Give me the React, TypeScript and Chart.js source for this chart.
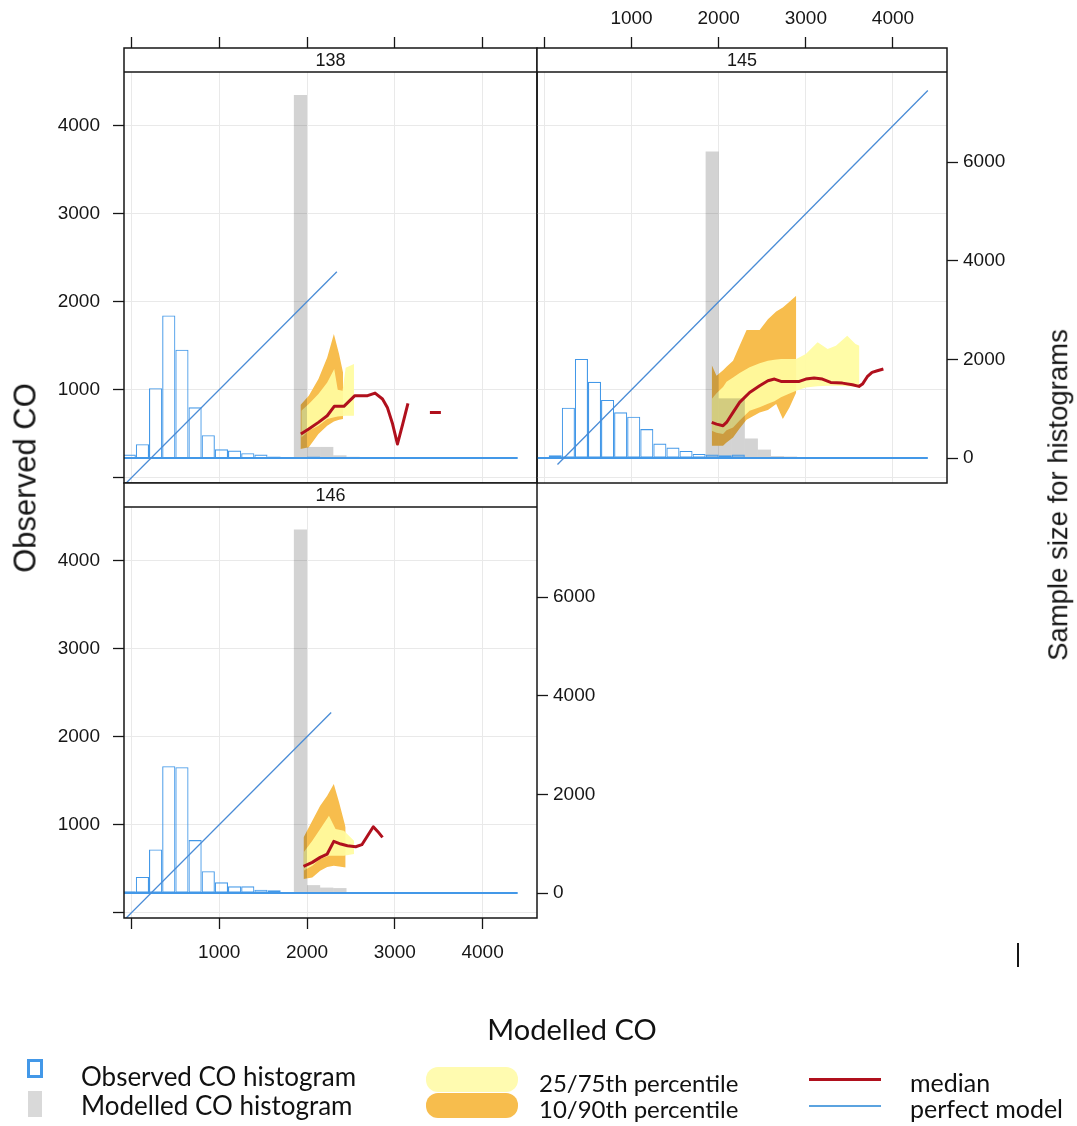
import { useEffect, useRef } from 'react';
import { Chart, registerables } from 'chart.js';

Chart.register(...registerables);

// ---------- shared categories and ticks ----------
// histogram bins are 150 CO units wide; these are their centres
const binCentres = [-25, 125, 275, 425, 575, 725, 875, 1025, 1175, 1325, 1475, 1625, 1775, 1925, 2075, 2225, 2375, 2525, 2675, 2825, 2975, 3125, 3275, 3425, 3575, 3725, 3875, 4025, 4175, 4325];
const histRange = [-100, 4400];
const xTickValues = [0, 1000, 2000, 3000, 4000];
const coTickValues = [0, 1000, 2000, 3000, 4000];
const countTickValues = [0, 2000, 4000, 6000];

// ---------- site 138 ----------
const obsHist138 = [69, 280, 1416, 2892, 2198, 1028, 463, 177, 150, 96, 69, 30, 12, 20, 30, 10, 6, 4, 3, 2, 2, 1, 1, 0, 0, 0, 0, 0, 0, 0];
const modHist138 = [0, 0, 0, 0, 0, 0, 0, 0, 0, 0, 0, 0, 0, 7361, 225, 225, 55, 25, 12, 8, 5, 3, 2, 1, 0, 0, 0, 0, 0, 0];
const medX138 = [1930, 2020, 2130, 2230, 2310, 2420, 2545, 2690, 2775, 2860, 2915, 2975, 3030, 3090, 3150, 3280, 3400, 3525];
const med138 = [496, 553, 629, 704, 811, 811, 932, 932, 962, 894, 799, 610, 383, 610, 845, null, 742, 742];
const outerX138 = [1925, 2020, 2130, 2230, 2306, 2365, 2410];
const q90_138 = [826, 932, 1121, 1367, 1633, 1405, 1197];
const q10_138 = [326, 345, 496, 591, 640, 660, 667];
const innerX138 = [1935, 2020, 2130, 2230, 2310, 2350, 2405, 2440, 2535];
const q75_138 = [761, 837, 951, 1083, 1235, 1000, 989, 1250, 1292];
const q25_138 = [458, 534, 591, 667, 686, 695, 700, 705, 705];
const perfect138 = [-100, 2340];

// ---------- site 145 ----------
const obsHist145 = [0, 55, 1020, 2008, 1545, 1177, 926, 837, 586, 293, 212, 143, 82, 69, 55, 70, 20, 12, 8, 6, 4, 3, 2, 1, 1, 0, 0, 0, 0, 0];
const modHist145 = [0, 0, 0, 0, 0, 0, 0, 0, 0, 0, 0, 0, 0, 6218, 1210, 1210, 396, 171, 40, 30, 20, 10, 6, 4, 2, 0, 0, 0, 0, 0];
const medX145 = [1920, 1975, 2050, 2090, 2165, 2240, 2355, 2470, 2565, 2640, 2715, 2925, 3000, 3095, 3190, 3285, 3420, 3535, 3610, 3650, 3705, 3760, 3820, 3890];
const med145 = [628, 609, 591, 628, 742, 856, 969, 1045, 1102, 1121, 1094, 1094, 1121, 1132, 1121, 1083, 1075, 1057, 1038, 1064, 1148, 1197, 1216, 1235];
const outerX145 = [1920, 1975, 2050, 2090, 2165, 2240, 2320, 2470, 2565, 2660, 2736, 2812, 2890];
const q90_145 = [1280, 1159, 1220, 1260, 1329, 1500, 1678, 1678, 1800, 1890, 1935, 2000, 2068];
const q10_145 = [363, 363, 363, 400, 458, 560, 660, 740, 770, 837, 666, 799, 969];
const innerX145 = [1920, 1975, 2050, 2090, 2165, 2240, 2355, 2470, 2565, 2640, 2715, 2800, 2890, 3000, 3135, 3250, 3345, 3475, 3570, 3615];
const q75_145 = [894, 960, 1030, 1090, 1140, 1190, 1254, 1300, 1329, 1340, 1348, 1348, 1348, 1405, 1538, 1462, 1500, 1613, 1519, 1500];
const q25_145 = [534, 510, 496, 540, 572, 650, 760, 800, 840, 870, 913, 950, 988, 1026, 1040, 1045, 1045, 1040, 1035, 1026];
const perfect145 = [150, 4400];

// ---------- site 146 ----------
const obsHist146 = [35, 327, 884, 2571, 2551, 1074, 442, 217, 136, 136, 68, 54, 20, 15, 10, 5, 3, 2, 1, 1, 0, 0, 0, 0, 0, 0, 0, 0, 0, 0];
const modHist146 = [0, 0, 0, 0, 0, 0, 0, 0, 0, 0, 0, 0, 0, 7374, 160, 110, 100, 20, 10, 5, 3, 2, 1, 0, 0, 0, 0, 0, 0, 0];
const medX146 = [1960, 2060, 2150, 2230, 2305, 2385, 2460, 2555, 2625, 2690, 2755, 2805, 2860];
const med146 = [526, 572, 629, 667, 811, 780, 761, 750, 773, 875, 977, 924, 856];
const outerX146 = [1960, 2060, 2150, 2230, 2305, 2365, 2440];
const q90_146 = [856, 1045, 1216, 1330, 1462, 1254, 969];
const q10_146 = [382, 401, 477, 520, 534, 525, 515];
const innerX146 = [1960, 2060, 2150, 2250, 2325, 2420, 2535];
const q75_146 = [685, 818, 951, 1102, 951, 932, 818];
const q25_146 = [477, 534, 610, 648, 648, 648, 667];
const perfect146 = [-100, 2275];

// ---------- look ----------
const FONT = "'Liberation Sans', Arial, Helvetica, sans-serif";
const LEGEND_FONT = "Lato, 'Open Sans', sans-serif";
const INK = '#161616';
const GRID = '#e9e9e9';
const BLUE_HIST = '#4398e8';
const BLUE_LINE = '#4a8cd6';
const GREY = '#d3d3d3';
const YELLOW = 'rgba(255, 252, 160, 0.92)';
const ORANGE = '#f7bd4d';
const RED = '#b0101d';

const PAGE_W = 1077;
const PAGE_H = 1126;
const STRIP_H = 24;

const X_MIN = -85;
const X_MAX = 4620;
const CO_MIN = -60;
const CO_MAX = 4883;
const COUNT_MIN = -507;
const COUNT_MAX = 8316;

type Panel = {
  site: string;
  obsHist: number[];
  modHist: number[];
  medX: number[];
  med: (number | null)[];
  outerX: number[];
  q10: number[];
  q90: number[];
  innerX: number[];
  q25: number[];
  q75: number[];
  perfect: number[];
};

type Frame = {
  left: number;
  right: number;
  top: number;
  bottom: number;
  xAxis: 'top' | 'bottom';
  xLabels: boolean;
  coLabels: boolean;
  countAxis: boolean;
};

const panels: { panel: Panel; frame: Frame }[] = [
  {
    panel: { site: '138', obsHist: obsHist138, modHist: modHist138, medX: medX138, med: med138, outerX: outerX138, q10: q10_138, q90: q90_138, innerX: innerX138, q25: q25_138, q75: q75_138, perfect: perfect138 },
    frame: { left: 124, right: 537, top: 48, bottom: 483, xAxis: 'top', xLabels: false, coLabels: true, countAxis: false },
  },
  {
    panel: { site: '145', obsHist: obsHist145, modHist: modHist145, medX: medX145, med: med145, outerX: outerX145, q10: q10_145, q90: q90_145, innerX: innerX145, q25: q25_145, q75: q75_145, perfect: perfect145 },
    frame: { left: 537, right: 947, top: 48, bottom: 483, xAxis: 'top', xLabels: true, coLabels: false, countAxis: true },
  },
  {
    panel: { site: '146', obsHist: obsHist146, modHist: modHist146, medX: medX146, med: med146, outerX: outerX146, q10: q10_146, q90: q90_146, innerX: innerX146, q25: q25_146, q75: q75_146, perfect: perfect146 },
    frame: { left: 124, right: 537, top: 483, bottom: 918, xAxis: 'bottom', xLabels: true, coLabels: true, countAxis: true },
  },
];

// panel strip and box, drawn last so the strip sits on top of the grid
const framePlugin = {
  id: 'panelFrame',
  afterDraw(chart: any, _args: any, opts: any) {
    const { ctx, chartArea: a } = chart;
    ctx.save();
    ctx.fillStyle = '#ffffff';
    ctx.fillRect(a.left, a.top, a.right - a.left, STRIP_H);
    ctx.strokeStyle = INK;
    ctx.lineWidth = 1.5;
    ctx.strokeRect(a.left, a.top, a.right - a.left, a.bottom - a.top);
    ctx.beginPath();
    ctx.moveTo(a.left, a.top + STRIP_H);
    ctx.lineTo(a.right, a.top + STRIP_H);
    ctx.stroke();
    ctx.fillStyle = INK;
    ctx.font = `18px ${FONT}`;
    ctx.textAlign = 'center';
    ctx.textBaseline = 'middle';
    ctx.fillText(opts.label, (a.left + a.right) / 2, a.top + STRIP_H / 2 + 1);
    ctx.restore();
  },
};

// the modelled histogram is blended over the percentile bands
const multiplyPlugin = {
  id: 'multiplyHist',
  beforeDatasetDraw(chart: any, args: any) {
    if (chart.data.datasets[args.index].label === 'Modelled CO histogram') {
      chart.ctx.save();
      chart.ctx.globalCompositeOperation = 'multiply';
    }
  },
  afterDatasetDraw(chart: any, args: any) {
    if (chart.data.datasets[args.index].label === 'Modelled CO histogram') {
      chart.ctx.restore();
    }
  },
};

const fixedTicks = (values: number[]) => (scale: any) => {
  scale.ticks = values.map((value) => ({ value }));
};

function buildConfig(p: Panel, f: Frame): any {
  const xy = (xs: number[], ys: (number | null)[]) => xs.map((x, i) => ({ x, y: ys[i] }));
  const hist = (counts: number[]) => binCentres.map((x, i) => ({ x, y: counts[i] })).filter((d) => d.y > 0);
  const tickFont = { family: FONT, size: 19 };

  const datasets = [
    { type: 'line', label: 'median', yAxisID: 'y', data: xy(p.medX, p.med), borderColor: RED, borderWidth: 3, pointRadius: 0, borderJoinStyle: 'round', spanGaps: false, order: 0 },
    { type: 'line', label: 'perfect model', yAxisID: 'y', data: [{ x: p.perfect[0], y: p.perfect[0] }, { x: p.perfect[1], y: p.perfect[1] }], borderColor: BLUE_LINE, borderWidth: 1.3, pointRadius: 0, order: 1 },
    { type: 'line', label: 'histogram baseline', yAxisID: 'count', data: [{ x: histRange[0], y: 0 }, { x: histRange[1], y: 0 }], borderColor: BLUE_HIST, borderWidth: 2, pointRadius: 0, order: 2 },
    { type: 'bar', label: 'Observed CO histogram', yAxisID: 'count', data: hist(p.obsHist), backgroundColor: 'rgba(255,255,255,0)', borderColor: BLUE_HIST, borderWidth: 1.1, borderSkipped: false, inflateAmount: 0, grouped: false, barPercentage: 1, categoryPercentage: 1, order: 3 },
    { type: 'bar', label: 'Modelled CO histogram', yAxisID: 'count', data: hist(p.modHist), backgroundColor: GREY, borderWidth: 0, inflateAmount: 0, grouped: false, barPercentage: 1, categoryPercentage: 1, order: 4 },
    { type: 'line', label: '75th percentile', yAxisID: 'y', data: xy(p.innerX, p.q75), borderWidth: 0, borderColor: 'rgba(0,0,0,0)', pointRadius: 0, fill: { target: 6 }, backgroundColor: YELLOW, order: 5 },
    { type: 'line', label: '25th percentile', yAxisID: 'y', data: xy(p.innerX, p.q25), borderWidth: 0, borderColor: 'rgba(0,0,0,0)', pointRadius: 0, fill: false, order: 5 },
    { type: 'line', label: '90th percentile', yAxisID: 'y', data: xy(p.outerX, p.q90), borderWidth: 0, borderColor: 'rgba(0,0,0,0)', pointRadius: 0, fill: { target: 8 }, backgroundColor: ORANGE, order: 6 },
    { type: 'line', label: '10th percentile', yAxisID: 'y', data: xy(p.outerX, p.q10), borderWidth: 0, borderColor: 'rgba(0,0,0,0)', pointRadius: 0, fill: false, order: 6 },
  ];

  return {
    type: 'line',
    data: { datasets },
    options: {
      animation: false,
      responsive: false,
      maintainAspectRatio: false,
      devicePixelRatio: 1,
      events: [],
      layout: {
        padding: {
          left: 0,
          top: f.xAxis === 'top' ? 0 : f.top,
          bottom: f.xAxis === 'bottom' ? 0 : PAGE_H - f.bottom,
          right: f.countAxis ? 0 : PAGE_W - f.right,
        },
      },
      plugins: {
        legend: { display: false },
        tooltip: { enabled: false },
        panelFrame: { label: p.site },
      },
      scales: {
        x: {
          type: 'linear',
          position: f.xAxis,
          min: X_MIN,
          max: X_MAX,
          bounds: 'data',
          offset: false,
          afterBuildTicks: fixedTicks(xTickValues),
          afterFit: (s: any) => {
            s.height = f.xAxis === 'top' ? f.top : PAGE_H - f.bottom;
          },
          ticks: {
            display: f.xLabels,
            autoSkip: false,
            maxRotation: 0,
            padding: f.xAxis === 'top' ? 7 : 12,
            color: INK,
            font: tickFont,
            callback: (v: number) => (v === 0 ? '' : String(v)),
          },
          grid: { offset: false, color: GRID, lineWidth: 1, drawTicks: true, tickLength: 11, tickColor: INK, tickWidth: 1.3 },
          border: { display: false },
        },
        y: {
          type: 'linear',
          position: 'left',
          min: CO_MIN,
          max: CO_MAX,
          bounds: 'data',
          offset: false,
          afterBuildTicks: fixedTicks(coTickValues),
          afterFit: (s: any) => {
            s.width = f.left;
          },
          ticks: {
            display: f.coLabels,
            autoSkip: false,
            padding: 13,
            color: INK,
            font: tickFont,
            callback: (v: number) => (v === 0 ? '' : String(v)),
          },
          grid: { offset: false, color: GRID, lineWidth: 1, drawTicks: f.coLabels, tickLength: 11, tickColor: INK, tickWidth: 1.3 },
          border: { display: false },
        },
        count: {
          type: 'linear',
          position: 'right',
          display: f.countAxis,
          min: COUNT_MIN,
          max: COUNT_MAX,
          bounds: 'data',
          offset: false,
          afterBuildTicks: fixedTicks(countTickValues),
          afterFit: (s: any) => {
            s.width = f.countAxis ? PAGE_W - f.right : 0;
          },
          ticks: {
            autoSkip: false,
            padding: 5,
            color: INK,
            font: tickFont,
            callback: (v: number) => String(v),
          },
          grid: { offset: false, drawOnChartArea: false, drawTicks: true, tickLength: 11, tickColor: INK, tickWidth: 1.3 },
          border: { display: false },
        },
      },
    },
    plugins: [framePlugin, multiplyPlugin],
  };
}

function PanelChart({ panel, frame }: { panel: Panel; frame: Frame }) {
  const ref = useRef<HTMLCanvasElement | null>(null);
  useEffect(() => {
    if (!ref.current) return;
    const chart = new Chart(ref.current, buildConfig(panel, frame));
    return () => chart.destroy();
  }, [panel, frame]);
  return (
    <canvas
      ref={ref}
      width={PAGE_W}
      height={PAGE_H}
      style={{ position: 'absolute', left: 0, top: 0, width: PAGE_W, height: PAGE_H }}
    />
  );
}

const rotatedTitle = (cx: number, cy: number, size: number): any => ({
  position: 'absolute',
  left: cx,
  top: cy,
  transform: 'translate(-50%, -50%) rotate(-90deg)',
  whiteSpace: 'nowrap',
  fontFamily: FONT,
  fontSize: size,
  lineHeight: 1,
  color: INK,
});

const legendText = (left: number, cy: number, size = 25): any => ({
  position: 'absolute',
  left,
  top: cy,
  transform: 'translateY(-50%)',
  whiteSpace: 'nowrap',
  fontFamily: LEGEND_FONT,
  fontSize: size,
  lineHeight: 1,
  color: '#111',
});

export default function App() {
  return (
    <div style={{ position: 'fixed', left: 0, top: 0, width: PAGE_W, height: PAGE_H, background: '#fff', overflow: 'hidden' }}>
      {panels.map(({ panel, frame }) => (
        <PanelChart key={panel.site} panel={panel} frame={frame} />
      ))}

      <div style={rotatedTitle(25, 478, 31)}>Observed CO</div>
      <div style={rotatedTitle(1058, 495, 27.5)}>Sample size for histograms</div>

      <div style={{ position: 'absolute', left: 1017, top: 943, width: 1.5, height: 24, background: INK }} />

      <div style={{ ...legendText(572, 1028, 29), transform: 'translate(-50%, -50%)' }}>Modelled CO</div>

      <div style={{ position: 'absolute', left: 27, top: 1059, width: 10, height: 13, border: `3px solid ${BLUE_HIST}` }} />
      <div style={{ position: 'absolute', left: 28, top: 1091, width: 14, height: 26, background: '#d9d9d9' }} />
      <div style={legendText(81, 1076, 26)}>Observed CO histogram</div>
      <div style={legendText(81, 1105, 26)}>Modelled CO histogram</div>

      <div style={{ position: 'absolute', left: 426, top: 1067, width: 92, height: 25, borderRadius: 12, background: '#fffbb0' }} />
      <div style={{ position: 'absolute', left: 426, top: 1093, width: 92, height: 25, borderRadius: 12, background: ORANGE }} />
      <div style={legendText(539, 1083, 24)}>25/75th percentile</div>
      <div style={legendText(539, 1109, 24)}>10/90th percentile</div>

      <div style={{ position: 'absolute', left: 809, top: 1077.5, width: 72, height: 3, background: RED }} />
      <div style={{ position: 'absolute', left: 809, top: 1105, width: 72, height: 2, background: '#5ba3e0' }} />
      <div style={legendText(910, 1082)}>median</div>
      <div style={legendText(910, 1108)}>perfect model</div>
    </div>
  );
}
